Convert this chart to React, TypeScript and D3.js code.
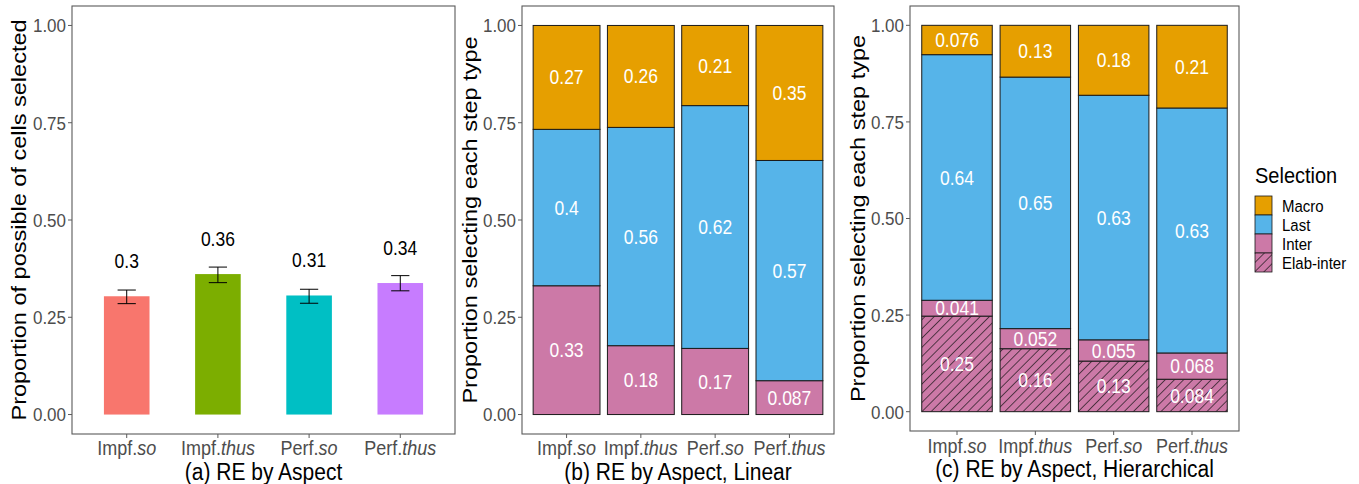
import React from "react";
import * as d3 from "d3";

// categories shared by all three panels
const categories = ["Impf.so", "Impf.thus", "Perf.so", "Perf.thus"];
const yTicks = [0, 0.25, 0.5, 0.75, 1];

// (a) proportion of possible cells selected, with error bars
const meanValues = [0.304, 0.361, 0.306, 0.338];
const errLow = [0.285, 0.339, 0.286, 0.318];
const errHigh = [0.32, 0.379, 0.322, 0.357];
const barColors = ["#F8766D", "#7CAE00", "#00BFC4", "#C77CFF"];

// (b) linear: Inter, Last, Macro (bottom to top)
const linearSeries = ["Inter", "Last", "Macro"];
const linearInter = [0.331, 0.177, 0.17, 0.087];
const linearLast = [0.402, 0.561, 0.624, 0.566];
const linearMacro = [0.267, 0.262, 0.206, 0.347];

// (c) hierarchical: Elab-inter, Inter, Last, Macro (bottom to top)
const hierSeries = ["Elab-inter", "Inter", "Last", "Macro"];
const hierElab = [0.2475, 0.163, 0.131, 0.084];
const hierInter = [0.041, 0.052, 0.055, 0.068];
const hierLast = [0.636, 0.651, 0.633, 0.634];
const hierMacro = [0.076, 0.134, 0.181, 0.214];

const legendItems = ["Macro", "Last", "Inter", "Elab-inter"];
const seriesFill: Record<string, string> = {
  Macro: "#E69F00",
  Last: "#56B4E9",
  Inter: "#CC79A7",
  "Elab-inter": "url(#hatch)",
};

const FONT = "'Liberation Sans', Arial, sans-serif";
const fmt = d3.format(".2~r");
// the original export is a little taller than wide, so glyphs get stretched
const STRETCH = 1.12;

type Box = { x0: number; x1: number; y0: number; y1: number };

function T({
  x,
  y,
  rotate,
  children,
  ...rest
}: {
  x: number;
  y: number;
  rotate?: boolean;
  children: React.ReactNode;
  [k: string]: any;
}) {
  const tf = rotate
    ? `translate(${x},${y}) rotate(-90) scale(${STRETCH},1)`
    : `translate(${x},${y}) scale(1,${STRETCH})`;
  return (
    <text transform={tf} {...rest}>
      {children}
    </text>
  );
}

function CatLabel({ name, x, y }: { name: string; x: number; y: number }) {
  const [a, b] = name.split(".");
  return (
    <T x={x} y={y} textAnchor="middle" fontSize={18} fill="#4D4D4D">
      <tspan>{a}.</tspan>
      <tspan fontStyle="italic">{b}</tspan>
    </T>
  );
}

function Frame({
  box,
  x,
  y,
  yTitle,
  xTitle,
  titleX,
  tickY,
  xTitleY,
}: {
  box: Box;
  x: d3.ScaleBand<string>;
  y: d3.ScaleLinear<number, number>;
  yTitle: string;
  xTitle: string;
  titleX: number;
  tickY: number;
  xTitleY: number;
}) {
  const cy = (box.y0 + box.y1) / 2;
  return (
    <g>
      <rect
        x={box.x0}
        y={box.y0}
        width={box.x1 - box.x0}
        height={box.y1 - box.y0}
        fill="none"
        stroke="#5a5a5a"
        strokeWidth={1.1}
      />
      {yTicks.map((t) => (
        <g key={t}>
          <line x1={box.x0 - 4} x2={box.x0} y1={y(t)} y2={y(t)} stroke="#5a5a5a" />
          <T
            x={box.x0 - 6}
            y={y(t)}
            dy="0.36em"
            textAnchor="end"
            fontSize={17}
            fill="#4D4D4D"
          >
            {t.toFixed(2)}
          </T>
        </g>
      ))}
      {categories.map((c) => {
        const cx = (x(c) as number) + x.bandwidth() / 2;
        return (
          <g key={c}>
            <line x1={cx} x2={cx} y1={box.y1} y2={box.y1 + 4} stroke="#5a5a5a" />
            <CatLabel name={c} x={cx} y={tickY} />
          </g>
        );
      })}
      <T
        x={titleX}
        y={cy}
        rotate
        textAnchor="middle"
        dy="0.35em"
        fontSize={21}
        fill="#000"
      >
        {yTitle}
      </T>
      <T
        x={(box.x0 + box.x1) / 2}
        y={xTitleY}
        textAnchor="middle"
        fontSize={21}
        fill="#000"
      >
        {xTitle}
      </T>
    </g>
  );
}

function makeScales(box: Box) {
  const x = d3
    .scaleBand<string>()
    .domain(categories)
    .range([box.x0, box.x1])
    .paddingInner(0)
    .paddingOuter(0.1);
  const y = d3.scaleLinear().domain([-0.05, 1.05]).range([box.y1, box.y0]);
  return { x, y };
}

function PanelA() {
  const box = { x0: 72, x1: 455, y0: 6, y1: 434 };
  const { x, y } = makeScales(box);
  const bw = x.bandwidth() * 0.5;
  const ew = x.bandwidth() * 0.2;
  return (
    <g>
      <Frame
        box={box}
        x={x}
        y={y}
        yTitle="Proportion of possible of cells selected"
        xTitle="(a) RE by Aspect"
        titleX={19}
        tickY={455}
        xTitleY={480}
      />
      {categories.map((c, i) => {
        const cx = (x(c) as number) + x.bandwidth() / 2;
        return (
          <g key={c}>
            <rect
              x={cx - bw / 2}
              width={bw}
              y={y(meanValues[i])}
              height={y(0) - y(meanValues[i])}
              fill={barColors[i]}
            />
            <g stroke="#000" strokeWidth={1}>
              <line x1={cx} x2={cx} y1={y(errLow[i])} y2={y(errHigh[i])} />
              <line x1={cx - ew / 2} x2={cx + ew / 2} y1={y(errLow[i])} y2={y(errLow[i])} />
              <line x1={cx - ew / 2} x2={cx + ew / 2} y1={y(errHigh[i])} y2={y(errHigh[i])} />
            </g>
            <T
              x={cx}
              y={y(meanValues[i] + 0.073)}
              textAnchor="middle"
              fontSize={17.5}
              fill="#000"
            >
              {fmt(meanValues[i])}
            </T>
          </g>
        );
      })}
    </g>
  );
}

function StackPanel({
  box,
  series,
  columns,
  yTitle,
  xTitle,
  titleX,
  tickY,
  xTitleY,
}: {
  box: Box;
  series: string[];
  columns: number[][];
  yTitle: string;
  xTitle: string;
  titleX: number;
  tickY: number;
  xTitleY: number;
}) {
  const { x, y } = makeScales(box);
  const rows = categories.map((c, i) => {
    const r: any = { cat: c };
    series.forEach((s, k) => (r[s] = columns[k][i]));
    return r;
  });
  const stacked = d3.stack<any>().keys(series).offset(d3.stackOffsetExpand)(rows);
  const bw = x.bandwidth() * 0.9;
  return (
    <g>
      <Frame
        box={box}
        x={x}
        y={y}
        yTitle={yTitle}
        xTitle={xTitle}
        titleX={titleX}
        tickY={tickY}
        xTitleY={xTitleY}
      />
      {stacked.map((layer) => (
        <g key={layer.key}>
          {layer.map((d, i) => {
            const cx = (x(categories[i]) as number) + x.bandwidth() / 2;
            return (
              <g key={i}>
                <rect
                  x={cx - bw / 2}
                  width={bw}
                  y={y(d[1])}
                  height={y(d[0]) - y(d[1])}
                  fill={seriesFill[layer.key]}
                  stroke="#1a1a1a"
                  strokeWidth={1}
                />
              </g>
            );
          })}
        </g>
      ))}
      {stacked.map((layer) => (
        <g key={layer.key + "-lab"}>
          {layer.map((d, i) => {
            const cx = (x(categories[i]) as number) + x.bandwidth() / 2;
            return (
              <T
                key={i}
                x={cx}
                y={y((d[0] + d[1]) / 2)}
                dy="0.36em"
                textAnchor="middle"
                fontSize={17.5}
                fill="#fff"
              >
                {fmt((d.data as any)[layer.key])}
              </T>
            );
          })}
        </g>
      ))}
    </g>
  );
}

function Legend() {
  const x0 = 1255;
  const y0 = 196;
  const kh = 19;
  return (
    <g>
      <T x={x0} y={183} fontSize={20} fill="#000">
        Selection
      </T>
      {legendItems.map((s, i) => (
        <g key={s}>
          <rect
            x={x0}
            y={y0 + i * kh}
            width={17}
            height={kh}
            fill={seriesFill[s]}
            stroke="#1a1a1a"
            strokeWidth={0.8}
          />
          <T x={1282} y={y0 + i * kh + kh / 2} dy="0.36em" fontSize={15} fill="#000">
            {s}
          </T>
        </g>
      ))}
    </g>
  );
}

export default function App() {
  return (
    <svg
      width={1359}
      height={484}
      style={{ position: "absolute", left: 0, top: 0, background: "#fff" }}
      fontFamily={FONT}
    >
      <defs>
        <pattern
          id="hatch"
          patternUnits="userSpaceOnUse"
          width={6.5}
          height={6.5}
          patternTransform="rotate(45)"
        >
          <rect width={6.5} height={6.5} fill="#CC79A7" />
          <line x1={0} y1={0} x2={0} y2={6.5} stroke="#111" strokeWidth={1.3} />
        </pattern>
      </defs>
      <rect width={1359} height={484} fill="#fff" />
      <PanelA />
      <StackPanel
        box={{ x0: 522, x1: 834, y0: 6, y1: 434 }}
        series={linearSeries}
        columns={[linearInter, linearLast, linearMacro]}
        yTitle="Proportion selecting each step type"
        xTitle="(b) RE by Aspect, Linear"
        titleX={470}
        tickY={455}
        xTitleY={480}
      />
      <StackPanel
        box={{ x0: 910, x1: 1239, y0: 6, y1: 431 }}
        series={hierSeries}
        columns={[hierElab, hierInter, hierLast, hierMacro]}
        yTitle="Proportion selecting each step type"
        xTitle="(c) RE by Aspect, Hierarchical"
        titleX={858}
        tickY={453}
        xTitleY={477}
      />
      <Legend />
    </svg>
  );
}
